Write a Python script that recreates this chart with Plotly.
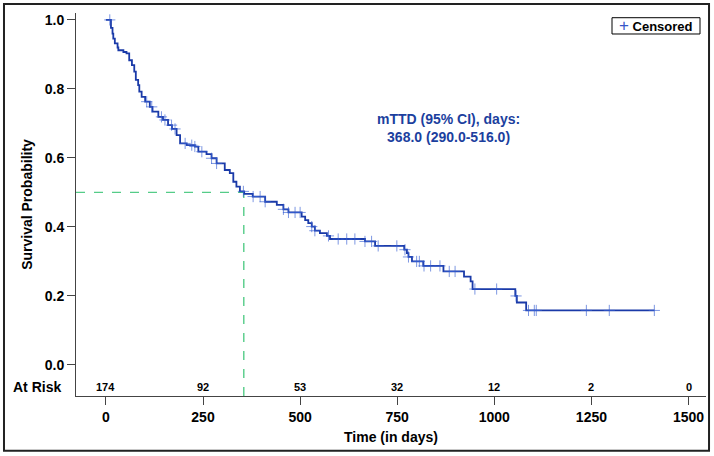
import bisect
import plotly.graph_objects as go

# ---- data ----
event_times = [0, 13, 17, 19, 23, 30, 32, 45, 53, 60,
               67, 73, 77, 83, 86, 92, 101, 113, 120, 135,
               147, 160, 170, 182, 191, 208, 229, 238, 259, 272,
               285, 306, 319, 328, 336, 345, 356, 378, 410, 440,
               457, 470, 504, 513, 521, 530, 538, 551, 569, 577,
               667, 693, 768, 775, 779, 788, 817, 869, 922, 939,
               944, 1054, 1058, 1082]
survival = [1.000, 0.977, 0.960, 0.946, 0.932, 0.920, 0.912, 0.907, 0.903, 0.883,
            0.869, 0.850, 0.826, 0.811, 0.792, 0.777, 0.763, 0.748, 0.734, 0.719,
            0.710, 0.695, 0.684, 0.666, 0.642, 0.637, 0.633, 0.618, 0.611, 0.599,
            0.584, 0.565, 0.556, 0.531, 0.517, 0.503, 0.496, 0.488, 0.473, 0.464,
            0.451, 0.442, 0.430, 0.420, 0.411, 0.401, 0.389, 0.382, 0.374, 0.365,
            0.358, 0.345, 0.334, 0.324, 0.313, 0.300, 0.287, 0.271, 0.256, 0.242,
            0.220, 0.200, 0.181, 0.158]
last_followup = 1412
censor_times = [10, 105, 118, 143, 152, 169, 178, 204, 221, 229, 247, 272, 285,
                354, 379, 397, 410, 457, 470, 487, 500, 530, 538, 573, 598, 620,
                641, 667, 684, 701, 749, 770, 779, 800, 807, 819, 836, 860, 884,
                899, 950, 1006, 1056, 1088, 1103, 1108, 1237, 1296, 1412]
risk_times = [0, 250, 500, 750, 1000, 1250, 1500]
risk_counts = [174, 92, 53, 32, 12, 2, 0]
median_time = 355
median_surv = 0.5
x_ticks = [0, 250, 500, 750, 1000, 1250, 1500]
y_ticks = [0.0, 0.2, 0.4, 0.6, 0.8, 1.0]

FONT = "Liberation Sans, Arial, sans-serif"
LINE_COLOR = "#1a3aa8"
MARK_COLOR = "rgba(55,95,210,0.65)"
GREEN = "#55cc88"
X_RANGE = [-77, 1545]
Y_RANGE = [-0.09, 1.02]


def surv_at(t):
    i = bisect.bisect_right(event_times, t) - 1
    return survival[max(i, 0)]


fig = go.Figure()

fig.add_trace(go.Scatter(
    x=event_times + [last_followup],
    y=survival + [survival[-1]],
    mode="lines", line=dict(color=LINE_COLOR, width=1.8, shape="hv"),
    showlegend=False, hoverinfo="skip"))

fig.add_trace(go.Scatter(
    x=censor_times, y=[surv_at(t) for t in censor_times],
    mode="markers", name="Censored", showlegend=False,
    marker=dict(symbol="cross-thin", size=8,
                line=dict(color=MARK_COLOR, width=1), color=MARK_COLOR)))

# median guide lines
fig.add_shape(type="line", xref="x", yref="y", x0=X_RANGE[0], x1=median_time,
              y0=median_surv, y1=median_surv, layer="below",
              line=dict(color=GREEN, width=1.4, dash="dash"))
fig.add_shape(type="line", xref="x", yref="y", x0=median_time, x1=median_time,
              y0=Y_RANGE[0], y1=median_surv, layer="below",
              line=dict(color=GREEN, width=1.4, dash="dash"))

# outer frame
fig.add_shape(type="rect", xref="paper", yref="paper",
              x0=-0.1143, x1=1.0048, y0=-0.1427, y1=1.0235,
              line=dict(color="#222222", width=2))

# legend box (drawn compactly like the reference)
fig.add_shape(type="rect", xref="paper", yref="paper",
              x0=0.8508, x1=0.9905, y0=0.9452, y1=0.9877,
              line=dict(color="black", width=1), fillcolor="white")
fig.add_annotation(x=0.8585, y=0.9665, xref="paper", yref="paper",
                   xanchor="left", yanchor="middle", showarrow=False,
                   text="<span style='color:#3556c8;font-weight:normal;font-size:17px'>+</span> Censored",
                   font=dict(family=FONT, size=13, color="black", weight="bold"))

# at-risk row
for t, n in zip(risk_times, risk_counts):
    fig.add_annotation(x=t, y=-0.063, xref="x", yref="y", text=str(n),
                       showarrow=False,
                       font=dict(family=FONT, size=11, color="black", weight="bold"))
fig.add_annotation(x=-0.02, y=-0.063, xref="paper", yref="y", text="At Risk",
                   xanchor="right", showarrow=False,
                   font=dict(family=FONT, size=14, color="black", weight="bold"))

# median annotation
fig.add_annotation(x=881, y=0.688, xref="x", yref="y",
                   text="mTTD (95% CI), days:<br>368.0 (290.0-516.0)",
                   showarrow=False, align="center",
                   font=dict(family=FONT, size=14, color="#1c3f9e", weight="bold"))

axis_common = dict(showgrid=False, zeroline=False, showline=True,
                   linecolor="#444444", linewidth=1, ticks="outside",
                   ticklen=8, tickcolor="#444444",
                   tickfont=dict(family=FONT, size=14, color="black", weight="bold"))

fig.update_xaxes(range=X_RANGE, tickvals=x_ticks, ticktext=[str(v) for v in x_ticks],
                 title=dict(text="Time (in days)", standoff=8,
                            font=dict(family=FONT, size=14, color="black", weight="bold")),
                 **axis_common)
fig.update_yaxes(range=Y_RANGE, tickvals=y_ticks, ticktext=[f"{v:.1f}" for v in y_ticks],
                 title=dict(text="Survival Probability", standoff=8,
                            font=dict(family=FONT, size=14, color="black", weight="bold")),
                 **axis_common)

fig.update_layout(
    width=714, height=456,
    margin=dict(l=76, r=8, t=13, b=60),
    paper_bgcolor="white", plot_bgcolor="white",
    showlegend=False,
)

fig.write_html("out.html")
